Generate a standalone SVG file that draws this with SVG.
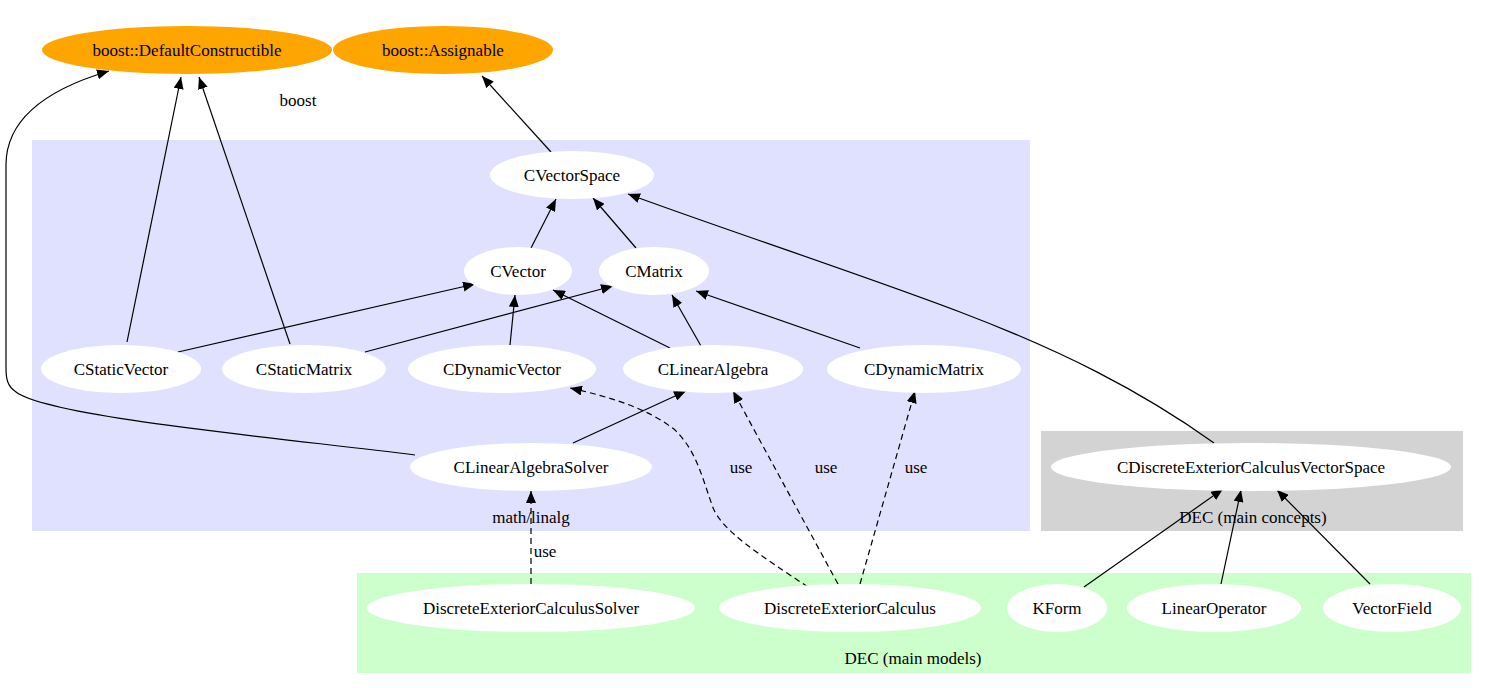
<svg xmlns="http://www.w3.org/2000/svg" width="1487" height="688" viewBox="0 0 1487 688">
<style>
.n ellipse{fill:#ffffff;stroke:none}
.o ellipse{fill:#ffa500;stroke:none}
text{font-family:"Liberation Serif","Times New Roman",serif;font-size:17px;fill:#000;text-anchor:middle}
.e path{fill:none;stroke:#000;stroke-width:1.2}
.d{stroke-dasharray:6,4}
</style>
<defs>
<marker id="ah" markerUnits="userSpaceOnUse" markerWidth="12" markerHeight="10" viewBox="0 0 12 10" refX="12" refY="5" orient="auto">
<path d="M0,0 L12,5 L0,10 z" fill="#000" stroke="none"/>
</marker>
</defs>
<rect width="1487" height="688" fill="#fff"/>
<g id="clusters">
<rect x="32" y="140" width="998" height="391" fill="#e0e0ff"/>
<rect x="1041" y="431" width="422" height="100" fill="#d3d3d3"/>
<rect x="357" y="573" width="1114" height="100" fill="#ccffcc"/>
<text x="298" y="106">boost</text>
<text x="531" y="523">math/linalg</text>
<text x="1253" y="523">DEC (main concepts)</text>
<text x="913" y="664">DEC (main models)</text>
</g>
<g id="edges" class="e">
<path d="M127,342 L181,77" marker-end="url(#ah)"/>
<path d="M290,344 L199,77" marker-end="url(#ah)"/>
<path d="M415,455 C300,440 50,418 16,392 C7,386 6,378 6,368 L6,165 C6,115 55,87 109,71" marker-end="url(#ah)"/>
<path d="M551,152 L482,76" marker-end="url(#ah)"/>
<path d="M531,248 L556,199" marker-end="url(#ah)"/>
<path d="M636,248 L593,198" marker-end="url(#ah)"/>
<path d="M178,352 L475,284" marker-end="url(#ah)"/>
<path d="M365,352 L613,286" marker-end="url(#ah)"/>
<path d="M510,345 L515,295" marker-end="url(#ah)"/>
<path d="M670,348 L553,290" marker-end="url(#ah)"/>
<path d="M701,346 L672,295" marker-end="url(#ah)"/>
<path d="M860,348 L696,291" marker-end="url(#ah)"/>
<path d="M1214,443 C1140,390 1060,350 960,312 C860,274 720,228 628,194" marker-end="url(#ah)"/>
<path d="M573,443 L686,391" marker-end="url(#ah)"/>
<path class="d" d="M531,584 L531,491" marker-end="url(#ah)"/>
<path class="d" d="M808,587 C760,555 720,530 712,505 C700,470 695,450 675,430 C650,410 615,398 570,388" marker-end="url(#ah)"/>
<path class="d" d="M838,584 L733,391" marker-end="url(#ah)"/>
<path class="d" d="M860,584 L915,391" marker-end="url(#ah)"/>
<path d="M1084,587 L1223,489" marker-end="url(#ah)"/>
<path d="M1221,584 L1241,490" marker-end="url(#ah)"/>
<path d="M1370,584 L1277,490" marker-end="url(#ah)"/>
<text x="545" y="557">use</text>
<text x="741" y="473">use</text>
<text x="826" y="473">use</text>
<text x="916" y="473">use</text>
</g>
<g id="n_defcons" class="o"><ellipse cx="187" cy="50" rx="145" ry="24"/><text x="187" y="56">boost::DefaultConstructible</text></g>
<g id="n_assign" class="o"><ellipse cx="443" cy="50" rx="110" ry="24"/><text x="443" y="56">boost::Assignable</text></g>
<g id="n_cvs" class="n"><ellipse cx="572" cy="175" rx="82" ry="24"/><text x="572" y="181">CVectorSpace</text></g>
<g id="n_cvector" class="n"><ellipse cx="518" cy="271" rx="54" ry="24"/><text x="518" y="277">CVector</text></g>
<g id="n_cmatrix" class="n"><ellipse cx="654" cy="271" rx="55" ry="24"/><text x="654" y="277">CMatrix</text></g>
<g id="n_csv" class="n"><ellipse cx="121" cy="369" rx="80" ry="24"/><text x="121" y="375">CStaticVector</text></g>
<g id="n_csm" class="n"><ellipse cx="304" cy="369" rx="82" ry="24"/><text x="304" y="375">CStaticMatrix</text></g>
<g id="n_cdv" class="n"><ellipse cx="502" cy="369" rx="94" ry="24"/><text x="502" y="375">CDynamicVector</text></g>
<g id="n_cla" class="n"><ellipse cx="713" cy="369" rx="90" ry="24"/><text x="713" y="375">CLinearAlgebra</text></g>
<g id="n_cdm" class="n"><ellipse cx="924" cy="369" rx="97" ry="24"/><text x="924" y="375">CDynamicMatrix</text></g>
<g id="n_clas" class="n"><ellipse cx="531" cy="467" rx="121" ry="24"/><text x="531" y="473">CLinearAlgebraSolver</text></g>
<g id="n_cdecvs" class="n"><ellipse cx="1251" cy="467" rx="200" ry="24"/><text x="1251" y="473">CDiscreteExteriorCalculusVectorSpace</text></g>
<g id="n_decs" class="n"><ellipse cx="531" cy="608" rx="164" ry="24"/><text x="531" y="614">DiscreteExteriorCalculusSolver</text></g>
<g id="n_dec" class="n"><ellipse cx="850" cy="608" rx="131" ry="24"/><text x="850" y="614">DiscreteExteriorCalculus</text></g>
<g id="n_kform" class="n"><ellipse cx="1057" cy="608" rx="50" ry="24"/><text x="1057" y="614">KForm</text></g>
<g id="n_linop" class="n"><ellipse cx="1214" cy="608" rx="87" ry="24"/><text x="1214" y="614">LinearOperator</text></g>
<g id="n_vf" class="n"><ellipse cx="1392" cy="608" rx="69" ry="24"/><text x="1392" y="614">VectorField</text></g>
</svg>
